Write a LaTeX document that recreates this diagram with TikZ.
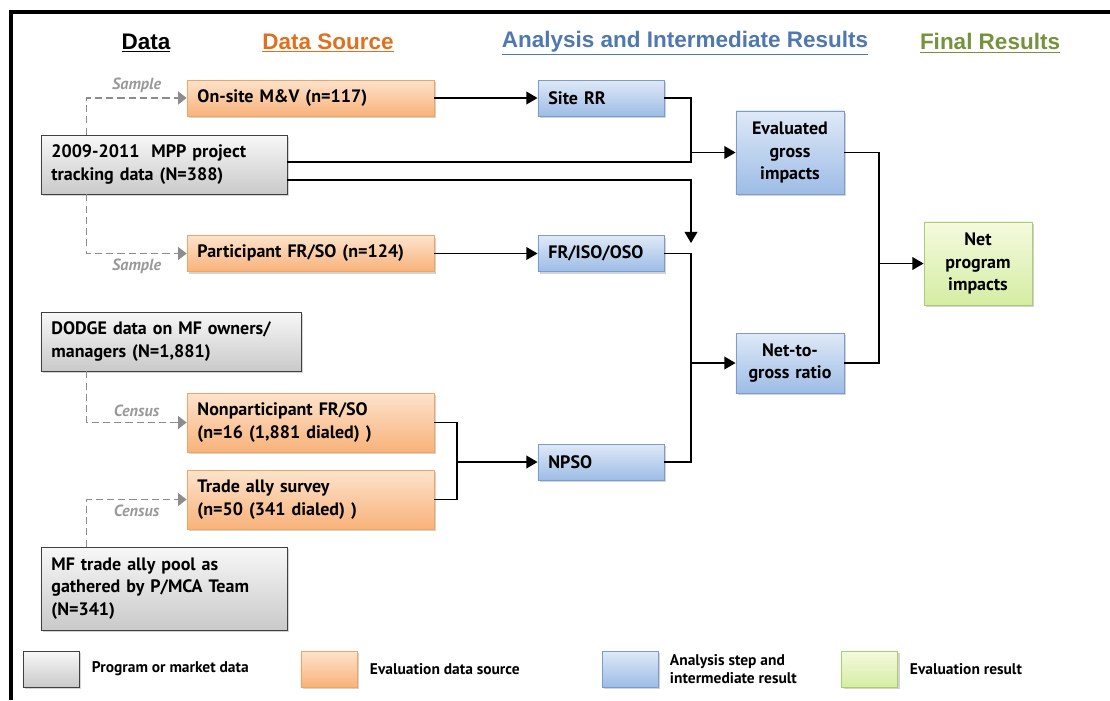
\documentclass[tikz,border=0pt]{standalone}
\usepackage{fontspec}
\setmainfont{PT Sans}
\newfontfamily\headfont{Liberation Sans}
\usetikzlibrary{arrows.meta,shadows}
\definecolor{srctop}{HTML}{FDE3CC}
\definecolor{srcbot}{HTML}{F8B27A}
\definecolor{srcline}{HTML}{F2A461}
\definecolor{steptop}{HTML}{DFE9F7}
\definecolor{stepbot}{HTML}{9DBCE6}
\definecolor{stepline}{HTML}{7C9CCB}
\definecolor{restop}{HTML}{F4FADF}
\definecolor{resbot}{HTML}{D5EDA2}
\definecolor{resline}{HTML}{ACCB72}
\definecolor{dashgray}{HTML}{8C8C8C}
\definecolor{labelgray}{HTML}{999999}
\definecolor{srchead}{HTML}{E0701E}
\definecolor{stephead}{HTML}{4F77B0}
\definecolor{reshead}{HTML}{76923C}
\tikzset{
  basebox/.style={draw,rectangle,inner xsep=0.26cm,inner ysep=0pt,line width=0.6pt,
    font=\bfseries\fontsize{12.8}{16}\selectfont,align=left,
    drop shadow={opacity=0.35,shadow xshift=0.05cm,shadow yshift=-0.05cm}},
  databox/.style={basebox,draw=black!75,top color=gray!6,bottom color=gray!42},
  srcbox/.style={basebox,draw=srcline,top color=srctop,bottom color=srcbot},
  stepbox/.style={basebox,draw=stepline,top color=steptop,bottom color=stepbot},
  resbox/.style={basebox,draw=resline,top color=restop,bottom color=resbot},
  keybox/.style={minimum width=1.4cm,minimum height=0.9cm},
  joinline/.style={line width=1.3pt},
  flow/.style={line width=1.3pt,-{Triangle[length=8pt,width=9pt]}},
  sampleline/.style={line width=1.2pt,dashgray,dash pattern=on 5pt off 3pt,
    -{Triangle[length=6pt,width=9pt]}},
  samplelabel/.style={font=\bfseries\itshape\fontsize{11.5}{13}\selectfont,text=labelgray},
  head/.style={font=\headfont\bfseries\fontsize{16}{19}\selectfont},
  keytext/.style={font=\bfseries\fontsize{11}{12.5}\selectfont,align=left,anchor=west}
}

\begin{document}
\begin{tikzpicture}[x=0.025cm,y=-0.025cm]
\useasboundingbox (0,0) rectangle (1110,700);

% frame
\draw[line width=3.5pt] (11,700) -- (11,12) -- (1110,12);

% Column headings
\node[head] (hdata) at (146,43) {\underline{Data}};
\node[head,text=srchead] (hsrc) at (328,43) {\underline{Data Source}};
\node[head,text=stephead] (hstep) at (685,43) {\underline{Analysis and Intermediate Results}};
\node[head,text=reshead] (hres) at (990,43) {\underline{Final Results}};

% Program and market data
\node[databox,text width=5.63cm,minimum height=1.475cm] (mpp) at (164,164.5)
  {2009-2011\ \ MPP project\\tracking data (N=388)};
\node[databox,text width=5.98cm,minimum height=1.475cm] (dodge) at (171,341.5)
  {DODGE data on MF owners/\\managers (N=1,881)};
\node[databox,text width=5.63cm,minimum height=2.075cm] (mfpool) at (164,588.5)
  {MF trade ally pool as\\gathered by P/MCA Team\\(N=341)};

% Evaluation data sources
\node[srcbox,text width=5.65cm,minimum height=0.9cm] (onsite) at (310.5,98) {On-site M\&V (n=117)};
\node[srcbox,text width=5.65cm,minimum height=0.9cm] (partic) at (310.5,253.5) {Participant FR/SO (n=124)};
\node[srcbox,text width=5.65cm,minimum height=1.475cm] (nonpart) at (310.5,422.5)
  {Nonparticipant FR/SO\\(n=16 (1,881 dialed) )};
\node[srcbox,text width=5.65cm,minimum height=1.475cm] (trade) at (310.5,499.5)
  {Trade ally survey\\(n=50 (341 dialed) )};

% Analysis steps
\node[stepbox,text width=2.63cm,minimum height=0.9cm] (siteRR) at (601,98) {Site RR};
\node[stepbox,text width=2.63cm,minimum height=0.9cm] (friso) at (601,253.5) {FR/ISO/OSO};
\node[stepbox,text width=2.63cm,minimum height=0.9cm] (npso) at (601,462) {NPSO};
\node[stepbox,text width=2.18cm,minimum height=2.075cm,align=center] (evalgross) at (790,152.5)
  {Evaluated\\gross\\impacts};
\node[stepbox,text width=2.18cm,minimum height=1.5cm,align=center] (ntg) at (790,363)
  {Net-to-\\gross ratio};

% Final result
\node[resbox,text width=2.18cm,minimum height=2.075cm,align=center] (netprog) at (978,263.5)
  {Net\\program\\impacts};

% Sampling links
\draw[sampleline] ([xshift=1.15cm]mpp.north west) |- node[pos=0.75,above,samplelabel] {Sample} (onsite.west);
\draw[sampleline] ([xshift=1.15cm]mpp.south west) |- node[pos=0.75,below,samplelabel] {Sample} (partic.west);
\draw[sampleline] ([xshift=1.15cm]dodge.south west) |- node[pos=0.75,above,samplelabel] {Census} (nonpart.west);
\draw[sampleline] ([xshift=1.15cm]mfpool.north west) |- node[pos=0.75,below,samplelabel] {Census} (trade.west);

% Buses
\coordinate (busl) at (457,0);
\coordinate (busn) at (691,0);
\coordinate (busr) at (879,0);
\coordinate (mppup) at ([yshift=0.06cm]mpp.east);
\coordinate (mpplo) at ([yshift=-0.39cm]mpp.east);

% Data flow
\draw[flow] (onsite) -- (siteRR);
\draw[flow] (partic) -- (friso);
\draw[joinline] (siteRR.east) -| (busn |- mppup) -- (mppup);
\draw[flow] (busn |- evalgross.west) -- (evalgross.west);
\draw[flow] (mpplo) -| ([yshift=0.26cm]busn |- friso.east);
\draw[joinline] (friso.east) -| (busn |- npso.east) -- (npso.east);
\draw[flow] (busn |- ntg.west) -- (ntg.west);
\draw[joinline] (nonpart.east) -| (busl |- trade.east) -- (trade.east);
\draw[flow] (busl |- npso.west) -- (npso.west);
\draw[joinline] (evalgross.east) -| (busr |- ntg.east) -- (ntg.east);
\draw[flow] (busr |- netprog.west) -- (netprog.west);

% Legend
\node[databox,keybox] (kdata) at (51,669) {};
\node[keytext] (tdata) at (87,669) {Program or market data};
\node[srcbox,keybox] (ksrc) at (329,669) {};
\node[keytext] (tsrc) at (365,669) {Evaluation data source};
\node[stepbox,keybox] (kstep) at (630,669) {};
\node[keytext] (tstep) at (665,669) {Analysis step and\\intermediate result};
\node[resbox,keybox] (kres) at (869.5,669) {};
\node[keytext] (tres) at (905,669) {Evaluation result};

\end{tikzpicture}
\end{document}
